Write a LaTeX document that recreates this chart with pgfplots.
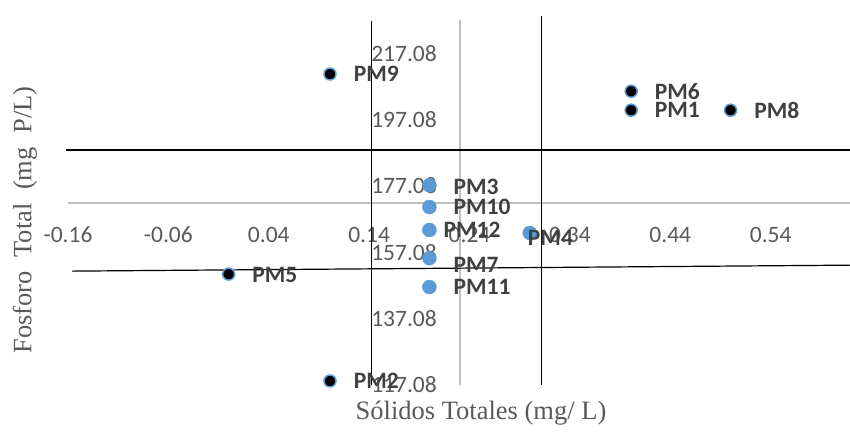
\documentclass[border=0pt]{standalone}
\usepackage{fontspec}
\setmainfont{Carlito}
\newfontfamily\timesfont{Liberation Serif}
\usepackage{pgfplots}
\pgfplotsset{compat=1.18}
\usepackage{pgfplotstable}
\definecolor{mblue}{HTML}{5B9BD5}
\definecolor{tickgray}{HTML}{595959}
\definecolor{lblgray}{HTML}{404040}
\definecolor{axgray}{HTML}{BFBFBF}

% points with black fill
\pgfplotstableread{
x y lbl dx dy
0.401 199.9 PM1 23 0
0.101 118.3 PM2 23 0
0.000 150.5 PM5 23 -1
0.401 205.6 PM6 23 0
0.500 199.9 PM8 23 0
0.101 210.8 PM9 23 0
}\blackpts
% points with blue fill
\pgfplotstableread{
x y lbl dx dy
0.200 177.3 PM3 24 -2
0.300 162.9 PM4 -2 -5
0.200 155.3 PM7 24 -7
0.200 170.7 PM10 24 0
0.200 146.6 PM11 24 0
0.200 163.8 PM12 14 0
}\bluepts

\begin{document}
\begin{tikzpicture}
\begin{axis}[
    at={(68pt,46pt)}, anchor=south west,
    scale only axis,
    width=782pt, height=365pt,
    xmin=-0.16, xmax=0.619,
    ymin=117.08, ymax=227.08,
    clip=false,
    axis line style={draw=none},
    tick style={draw=none},
    major tick length=0pt,
    xtick={-0.16,-0.06,0.04,0.14,0.24,0.34,0.44,0.54},
    xticklabels={-0.16,-0.06,0.04,0.14,0.24,0.34,0.44,0.54},
    ytick={117.08,137.08,157.08,177.08,197.08,217.08},
    yticklabels={117.08,137.08,157.08,177.08,197.08,217.08},
    tick label style={font=\fontsize{23.5}{28}\selectfont, text=tickgray, inner sep=0pt},
    xticklabel style={anchor=center, yshift=150pt},
    yticklabel style={anchor=east, xshift=369pt},
]
% axes crossing inside the plot
\addplot[axgray, line width=1.6pt] coordinates {(-0.16,171.9) (0.619,171.9)};
\addplot[axgray, line width=1.6pt] coordinates {(0.2304,117.08) (0.2304,227.08)};
% quadrant lines
\addplot[black, line width=1.2pt] coordinates {(0.142,117.08) (0.142,226.7)};
\addplot[black, line width=1.2pt] coordinates {(0.312,117.08) (0.312,228.2)};
\addplot[black, line width=1.2pt] coordinates {(-0.162,187.9) (0.619,187.9)};
\addplot[black, line width=1.2pt] coordinates {(-0.156,151.4) (0.619,153.2)};

\addplot[only marks, mark=*, mark size=6pt,
    mark options={fill=black, draw=mblue, line width=1.5pt},
    nodes near coords, point meta=explicit symbolic,
    visualization depends on={\thisrow{dx} \as \dx},
    visualization depends on={\thisrow{dy} \as \dy},
    nodes near coords style={anchor=west, inner sep=0pt, xshift=\dx pt, yshift=\dy pt,
        font=\bfseries\fontsize{23.5}{28}\selectfont, text=lblgray}]
    table[x=x, y=y, meta=lbl] {\blackpts};
\addplot[only marks, mark=*, mark size=7pt,
    mark options={fill=mblue, draw=mblue},
    nodes near coords, point meta=explicit symbolic,
    visualization depends on={\thisrow{dx} \as \dx},
    visualization depends on={\thisrow{dy} \as \dy},
    nodes near coords style={anchor=west, inner sep=0pt, xshift=\dx pt, yshift=\dy pt,
        font=\bfseries\fontsize{23.5}{28}\selectfont, text=lblgray}]
    table[x=x, y=y, meta=lbl] {\bluepts};
\end{axis}
\node[font=\timesfont\fontsize{26.5}{31}\selectfont, text=tickgray] at (481pt,18pt) {Sólidos Totales (mg/ L)};
\node[rotate=90, font=\timesfont\fontsize{26.5}{31}\selectfont, text=tickgray] at (25pt,211pt)
    {Fosforo\hspace{7pt} Total\hspace{7pt} (mg\hspace{7pt} P/L)};
\pgfresetboundingbox
\path (0,0) rectangle (850pt,431pt);
\end{tikzpicture}
\end{document}
